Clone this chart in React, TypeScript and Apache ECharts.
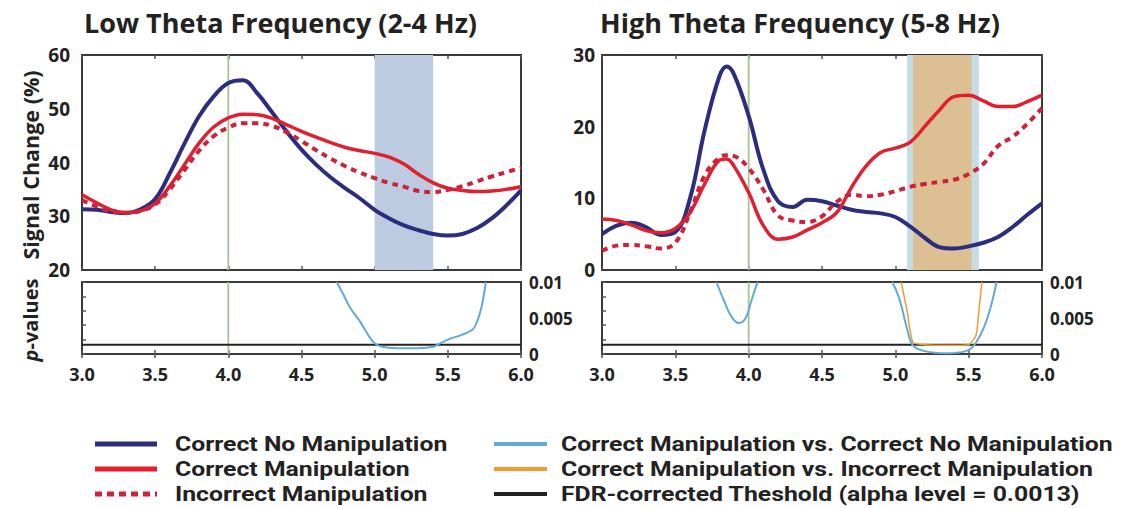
import React, { useEffect, useRef } from 'react';
import * as echarts from 'echarts';

// ---------- data ----------
const titles = ['Low Theta Frequency (2-4 Hz)', 'High Theta Frequency (5-8 Hz)'];
const yTitleTop = 'Signal Change (%)';

const lowX = [3.0, 3.1, 3.2, 3.3, 3.4, 3.5, 3.6, 3.7, 3.8, 3.9, 4.0, 4.1, 4.2, 4.3, 4.4, 4.5, 4.6, 4.7, 4.8, 4.9, 5.0, 5.1, 5.2, 5.3, 5.4, 5.5, 5.6, 5.7, 5.8, 5.9, 6.0];
const lowCorrectNoManip = [31.3, 31.2, 30.8, 30.6, 31.3, 33.2, 38.0, 43.5, 48.6, 52.3, 54.8, 55.3, 52.8, 49.3, 45.7, 42.4, 39.6, 37.2, 35.2, 33.3, 31.2, 29.6, 28.3, 27.4, 26.7, 26.4, 26.7, 27.8, 29.6, 32.0, 34.8];
const lowCorrectManip = [34.0, 32.5, 31.2, 30.7, 31.0, 32.4, 35.6, 39.6, 43.6, 46.6, 48.3, 49.0, 48.9, 48.2, 47.0, 45.8, 44.7, 43.7, 42.8, 42.2, 41.7, 41.0, 39.7, 37.8, 36.2, 35.2, 34.8, 34.6, 34.7, 35.0, 35.5];
const lowIncorrectManip = [33.0, 31.8, 30.9, 30.6, 31.0, 32.2, 35.0, 38.6, 42.2, 44.9, 46.5, 47.3, 47.3, 46.8, 45.6, 44.0, 42.3, 40.7, 39.3, 38.1, 37.1, 36.2, 35.5, 34.7, 34.5, 34.9, 35.6, 36.5, 37.4, 38.2, 39.0];

const highX = [3.0, 3.1, 3.2, 3.3, 3.4, 3.5, 3.6, 3.7, 3.8, 3.85, 3.9, 4.0, 4.1, 4.2, 4.3, 4.4, 4.5, 4.6, 4.7, 4.8, 4.9, 5.0, 5.1, 5.2, 5.3, 5.4, 5.5, 5.6, 5.7, 5.8, 5.9, 6.0];
const highCorrectNoManip = [5.0, 6.2, 6.6, 6.0, 4.9, 5.3, 10.0, 19.5, 27.0, 28.4, 27.3, 21.5, 14.0, 9.6, 8.8, 9.8, 9.6, 9.0, 8.4, 8.1, 7.9, 7.4, 6.1, 4.5, 3.2, 3.0, 3.3, 3.8, 4.6, 6.0, 7.7, 9.3];
const highCorrectManip = [7.1, 6.9, 6.3, 5.5, 5.2, 5.8, 8.0, 12.0, 15.3, 15.5, 14.5, 10.8, 6.2, 4.3, 4.6, 5.6, 6.6, 8.0, 11.5, 14.5, 16.4, 17.0, 17.8, 20.0, 22.3, 24.2, 24.4, 23.6, 22.8, 22.8, 23.5, 24.4];
const highIncorrectManip = [2.7, 3.4, 3.5, 3.3, 3.0, 3.8, 8.0, 13.2, 15.7, 16.0, 15.9, 14.2, 11.2, 7.6, 6.9, 6.7, 7.5, 9.5, 10.5, 10.3, 10.5, 11.0, 11.6, 12.0, 12.3, 12.6, 13.4, 14.8, 17.3, 18.6, 20.4, 22.6];

const onsetX = 4.0;
const lowBand = [5.0, 5.4];
const highBandBlue = [5.08, 5.57];
const highBandTan = [5.12, 5.52];
const fdrThreshold = 0.0013;

const lowPX = [4.74, 4.78, 4.83, 4.9, 4.96, 5.0, 5.05, 5.15, 5.3, 5.4, 5.45, 5.5, 5.6, 5.67, 5.7, 5.73, 5.76];
const lowPCmVsCnm = [0.010, 0.0085, 0.0065, 0.0045, 0.0025, 0.0015, 0.0010, 0.0008, 0.0008, 0.0010, 0.0015, 0.0020, 0.0027, 0.0034, 0.0045, 0.0065, 0.010];
const highPXa = [3.78, 3.83, 3.88, 3.93, 3.98, 4.02, 4.06];
const highPCmVsCnmA = [0.010, 0.0075, 0.0053, 0.0043, 0.0050, 0.0075, 0.010];
const highPXb = [4.98, 5.03, 5.08, 5.12, 5.2, 5.35, 5.48, 5.54, 5.6, 5.65, 5.69];
const highPCmVsCnmB = [0.010, 0.0075, 0.0035, 0.0012, 0.0004, 0.0001, 0.0004, 0.0013, 0.0035, 0.0065, 0.010];
const highPXo = [5.04, 5.08, 5.12, 5.2, 5.35, 5.5, 5.55, 5.57, 5.59];
const highPCmVsIm = [0.010, 0.006, 0.0016, 0.0013, 0.0012, 0.0013, 0.0026, 0.006, 0.010];

const legendLeft = ['Correct No Manipulation', 'Correct Manipulation', 'Incorrect Manipulation'];
const legendRight = ['Correct Manipulation vs. Correct No Manipulation', 'Correct Manipulation vs. Incorrect Manipulation', 'FDR-corrected Theshold (alpha level = 0.0013)'];

// ---------- styles ----------
const NAVY = '#2b2d7f';
const RED = '#e11f2e';
const DRED = '#d0203a';
const LBLUE = '#62aad8';
const ORANGE = '#f29b2e';
const GREEN = '#a3c490';
const TXT = '#222';
const FONT = '"Open Sans", sans-serif';
const LEGEND_FONT = 'Roboto, "Open Sans", sans-serif';

const zip = (xs: number[], ys: number[]) => xs.map((x, i) => [x, ys[i]]);

export default function App() {
  const ref = useRef<HTMLDivElement>(null);
  useEffect(() => {
    if (!ref.current) return;
    const chart = echarts.init(ref.current, null, { renderer: 'svg' });

    const grids = [
      { left: 82, top: 55, width: 439, height: 215 },
      { left: 82, top: 282, width: 439, height: 72 },
      { left: 602, top: 55, width: 440, height: 215 },
      { left: 602, top: 282, width: 440, height: 72 },
    ].map((g) => ({ ...g, show: true, borderColor: '#3a3a3a', borderWidth: 2, backgroundColor: 'transparent' }));

    const baseX = (gridIndex: number, labels: boolean, position = 'bottom') => ({
      type: 'value',
      gridIndex,
      position,
      min: 3,
      max: 6,
      interval: 0.5,
      axisLine: { show: false },
      axisTick: { show: true, inside: true, length: 4, lineStyle: { color: '#555', width: 1.5 } },
      splitLine: { show: false },
      axisLabel: labels
        ? { show: true, formatter: (v: number) => v.toFixed(1), fontFamily: FONT, fontWeight: 'bold', fontSize: 18, color: TXT, margin: 11 }
        : { show: false },
    });

    const xAxis = [
      baseX(0, false),
      baseX(1, true),
      baseX(2, false),
      baseX(3, true),
      baseX(0, false, 'top'),
      baseX(2, false, 'top'),
      baseX(1, false, 'top'),
      baseX(3, false, 'top'),
    ];

    const yLab = (margin: number) => ({ show: true, fontFamily: FONT, fontWeight: 'bold', fontSize: 19, color: TXT, margin });
    const pLab = { show: true, fontFamily: FONT, fontWeight: 'bold', fontSize: 17, lineHeight: 16, color: TXT, margin: 8, formatter: (v: number) => String(+v.toFixed(3)) };
    const yAxis = [
      { type: 'value', gridIndex: 0, min: 20, max: 60, interval: 10, axisLine: { show: false }, axisTick: { show: false }, splitLine: { show: false }, axisLabel: yLab(12) },
      { type: 'value', gridIndex: 1, min: 0, max: 0.01, interval: 0.002, axisLine: { show: false }, axisTick: { show: true, inside: true, length: 4, lineStyle: { color: '#555', width: 1.5 } }, splitLine: { show: false }, axisLabel: { show: false } },
      { type: 'value', gridIndex: 2, min: 0, max: 30, interval: 10, axisLine: { show: false }, axisTick: { show: false }, splitLine: { show: false }, axisLabel: yLab(7) },
      { type: 'value', gridIndex: 3, min: 0, max: 0.01, interval: 0.002, axisLine: { show: false }, axisTick: { show: true, inside: true, length: 4, lineStyle: { color: '#555', width: 1.5 } }, splitLine: { show: false }, axisLabel: { show: false } },
      { type: 'value', gridIndex: 1, position: 'right', min: 0, max: 0.01, interval: 0.005, axisLine: { show: false }, axisTick: { show: false }, splitLine: { show: false }, axisLabel: pLab },
      { type: 'value', gridIndex: 3, position: 'right', min: 0, max: 0.01, interval: 0.005, axisLine: { show: false }, axisTick: { show: false }, splitLine: { show: false }, axisLabel: pLab },
    ];

    const line = (name: string, xi: number, data: number[][], color: string, width: number, type: any = 'solid', extra: any = {}) => ({
      type: 'line',
      name,
      xAxisIndex: xi,
      yAxisIndex: xi,
      data,
      smooth: 0.4,
      showSymbol: false,
      symbol: 'none',
      clip: true,
      lineStyle: { color, width, type, cap: 'butt' },
      silent: true,
      ...extra,
    });

    const onset = (xi: number, lo: number, hi: number, extra: any = {}) =>
      line('Onset', xi, [[onsetX, lo], [onsetX, hi]], GREEN, 1.8, 'solid', { smooth: false, ...extra });

    const series: any[] = [
      // top-left
      onset(0, 20, 60, {
        markArea: { silent: true, itemStyle: { color: '#bccbe0' }, data: [[{ xAxis: lowBand[0] }, { xAxis: lowBand[1] }]] },
      }),
      line('Correct No Manipulation', 0, zip(lowX, lowCorrectNoManip), NAVY, 4),
      line('Correct Manipulation', 0, zip(lowX, lowCorrectManip), RED, 3.5),
      line('Incorrect Manipulation', 0, zip(lowX, lowIncorrectManip), DRED, 4, [6, 5]),
      // bottom-left
      onset(1, 0, 0.01),
      line('FDR-corrected Theshold', 1, [[3, fdrThreshold], [6, fdrThreshold]], '#222', 2, 'solid', { smooth: false }),
      line('Correct Manipulation vs. Correct No Manipulation', 1, zip(lowPX, lowPCmVsCnm), LBLUE, 2),
      // top-right
      onset(2, 0, 30, {
        markArea: {
          silent: true,
          data: [
            [{ xAxis: highBandBlue[0], itemStyle: { color: '#c6dde8' } }, { xAxis: highBandBlue[1] }],
            [{ xAxis: highBandTan[0], itemStyle: { color: '#dcc093' } }, { xAxis: highBandTan[1] }],
          ],
        },
      }),
      line('Correct No Manipulation', 2, zip(highX, highCorrectNoManip), NAVY, 4),
      line('Correct Manipulation', 2, zip(highX, highCorrectManip), RED, 3.5),
      line('Incorrect Manipulation', 2, zip(highX, highIncorrectManip), DRED, 4, [6, 5]),
      // bottom-right
      onset(3, 0, 0.01),
      line('FDR-corrected Theshold', 3, [[3, fdrThreshold], [6, fdrThreshold]], '#222', 2, 'solid', { smooth: false }),
      line('Correct Manipulation vs. Correct No Manipulation', 3, zip(highPXa, highPCmVsCnmA), LBLUE, 2),
      line('Correct Manipulation vs. Correct No Manipulation', 3, zip(highPXb, highPCmVsCnmB), LBLUE, 2),
      line('Correct Manipulation vs. Incorrect Manipulation', 3, zip(highPXo, highPCmVsIm), ORANGE, 1.5, 'solid', { smooth: 0.2 }),
    ];

    const txt = (text: string, x: number, y: number, size: number, align = 'left', extra: any = {}, family = FONT) => ({
      type: 'text',
      x,
      y,
      silent: true,
      ...extra,
      style: {
        text,
        fill: TXT,
        font: `bold ${size}px ${family}`,
        lineHeight: Math.round(size),
        textAlign: align,
        align,
        textVerticalAlign: 'middle',
        verticalAlign: 'middle',
        ...(extra.style || {}),
      },
    });

    const legendRows = [444, 469, 494];
    const leftColors = [NAVY, RED, DRED];
    const leftDash: any[] = [null, null, [7, 5]];
    const rightColors = [LBLUE, ORANGE, '#222'];

    const graphic: any[] = [
      txt(titles[0], 84, 22, 27),
      txt(titles[1], 600, 22, 27),
      txt(yTitleTop, 30, 165, 21.5, 'center', { rotation: Math.PI / 2 }),
      {
        type: 'text',
        x: 30,
        y: 320,
        rotation: Math.PI / 2,
        silent: true,
        style: {
          text: '{i|p}-values',
          fill: TXT,
          font: `bold 20px ${FONT}`,
          textAlign: 'center',
          align: 'center',
          textVerticalAlign: 'middle',
          verticalAlign: 'middle',
          rich: { i: { fontStyle: 'italic', fontWeight: 'bold', fontSize: 20, fontFamily: FONT, fill: TXT } },
        },
      },
    ];
    legendRows.forEach((y, i) => {
      graphic.push({
        type: 'line',
        silent: true,
        shape: { x1: 95, y1: y, x2: 157, y2: y },
        style: { stroke: leftColors[i], lineWidth: 5, lineDash: leftDash[i] || undefined },
      });
      graphic.push(txt(legendLeft[i], 175, y, 21, 'left', { scaleX: 1.18 }, LEGEND_FONT));
      graphic.push({
        type: 'line',
        silent: true,
        shape: { x1: 494, y1: y, x2: 547, y2: y },
        style: { stroke: rightColors[i], lineWidth: 4 },
      });
      graphic.push(txt(legendRight[i], 561, y, 21, 'left', { scaleX: 1.18 }, LEGEND_FONT));
    });

    chart.setOption({
      animation: false,
      backgroundColor: '#fff',
      grid: grids,
      xAxis,
      yAxis,
      series,
      graphic,
    });
    return () => chart.dispose();
  }, []);

  return <div ref={ref} style={{ position: 'fixed', left: 0, top: 0, width: 1148, height: 508 }} />;
}
